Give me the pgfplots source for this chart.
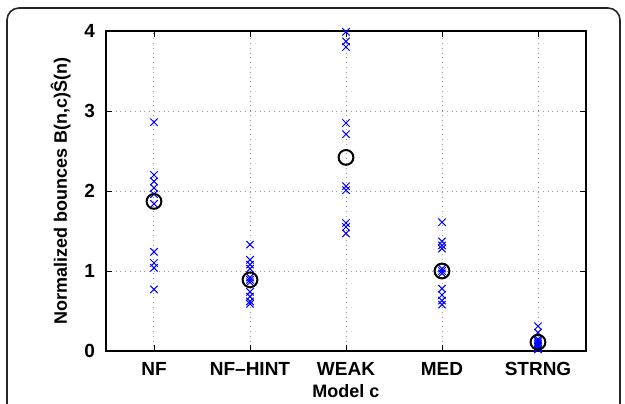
\documentclass[border=0pt]{standalone}
\usepackage{fontspec}
\setmainfont{Liberation Sans}
\usepackage{pgfplots}
\pgfplotsset{compat=1.18}
\begin{document}
\begin{tikzpicture}
\useasboundingbox (-53pt,-26pt) rectangle (259.5pt,175.5pt);
\draw[line width=0.8pt, rounded corners=6pt, black!85] (-49.5pt,-40pt) rectangle (257pt,171.5pt);
\begin{axis}[
  at={(0,0)}, anchor=south west,
  width=240pt, height=160pt, scale only axis=true,
  xmin=0.5, xmax=5.5, ymin=0, ymax=4,
  xtick={1,2,3,4,5},
  xticklabels={NF,NF--HINT,WEAK,MED,STRNG},
  ytick={0,1,2,3,4},
  grid=major,
  major grid style={dotted, gray!80, line width=0.5pt},
  tick align=inside,
  major tick length=3pt,
  axis line style={line width=0.6pt},
  tick style={black, line width=0.4pt},
  /pgf/number format/assume math mode=true,
  ticklabel style={font=\bfseries\fontsize{9.5}{11}\selectfont},
  label style={font=\bfseries\fontsize{9}{10}\selectfont},
  xlabel={Model c},
  ylabel={Normalized bounces B(n,c)Ŝ(n)},
  xlabel style={yshift=2.5pt},
  ylabel style={yshift=0pt},
  xticklabel style={yshift=-2pt},
  yticklabel style={xshift=-2pt},
  clip=false,
]
\addplot[only marks, mark=x, mark size=2.6pt, color=blue, mark options={line width=0.5pt}] coordinates {
(1,2.86) (1,2.20) (1,2.12) (1,2.04) (1,1.96) (1,1.84) (1,1.24) (1,1.10) (1,1.04) (1,0.77)
(2,1.33) (2,1.14) (2,1.08) (2,1.03) (2,0.92) (2,0.89) (2,0.86) (2,0.74) (2,0.68) (2,0.62) (2,0.59)
(3,3.99) (3,3.87) (3,3.80) (3,2.85) (3,2.71) (3,2.06) (3,2.01) (3,1.60) (3,1.55) (3,1.47)
(4,1.61) (4,1.37) (4,1.32) (4,1.28) (4,1.03) (4,1.00) (4,0.97) (4,0.78) (4,0.70) (4,0.63) (4,0.58)
(5,0.31) (5,0.23) (5,0.15) (5,0.13) (5,0.11) (5,0.09) (5,0.07) (5,0.05) (5,0.03) (5,0.02)
};
\addplot[only marks, mark=o, mark size=3.7pt, color=black, mark options={line width=1pt}] coordinates {
(1,1.87) (2,0.89) (3,2.42) (4,1.00) (5,0.11)
};
\end{axis}
\end{tikzpicture}
\end{document}
